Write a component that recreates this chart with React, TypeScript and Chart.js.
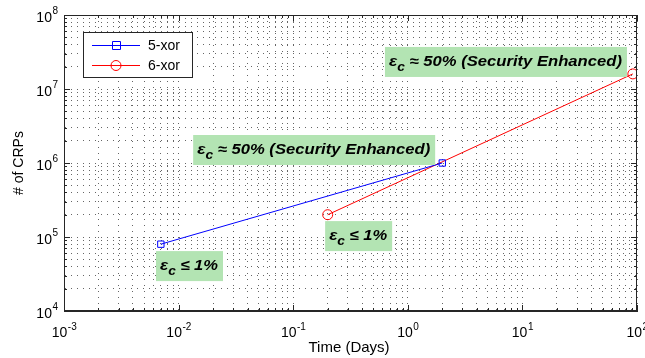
import React, { useEffect, useRef } from "react";
import { Chart, registerables } from "chart.js";

Chart.register(...registerables);

// ---- data ----
const seriesNames = ["5-xor", "6-xor"];
const xor5Days = [0.007, 2];
const xor5CRPs = [8e4, 1e6];
const xor6Days = [0.2, 92];
const xor6CRPs = [2e5, 1.6e7];

const xPowers = [-3, -2, -1, 0, 1, 2];
const yPowers = [4, 5, 6, 7, 8];

const xTitle = "Time (Days)";
const yTitle = "# of CRPs";

// annotation texts and anchors (top-left of box, data coords)
const annoTexts = [" \u2248 50% (Security Enhanced)", " \u2248 50% (Security Enhanced)", " \u2264 1%", " \u2264 1%"];
const annoX = [0.632, 0.0134, 0.00635, 0.19];
const annoY = [3.7e7, 2.39e6, 6.45e4, 1.64e5];
const annoTextWidth = [233, 233, 58, 58];

const FONT = "'Liberation Sans', Arial, Helvetica, sans-serif";
const GREEN = "#b3e4b3";
const BLUE = "#0000ff";
const RED = "#ff0000";

function logTicks(minP: number, maxP: number) {
  const t: { value: number }[] = [];
  for (let p = minP; p < maxP; p++) {
    for (let k = 1; k <= 9; k++) t.push({ value: k * Math.pow(10, p) });
  }
  t.push({ value: Math.pow(10, maxP) });
  return t;
}

const isMajor = (v: number) => Math.abs(Math.log10(v) - Math.round(Math.log10(v))) < 1e-9;

const decorPlugin = {
  id: "decor",
  afterDraw(chart: any) {
    const ctx = chart.ctx as CanvasRenderingContext2D;
    const { left, right, top, bottom } = chart.chartArea;
    const xs = chart.scales.x;
    const ys = chart.scales.y;
    ctx.save();
    // frame
    ctx.strokeStyle = "#262626";
    ctx.lineWidth = 1;
    ctx.strokeRect(left + 0.5, top + 0.5, right - left - 1, bottom - top - 1);
    // inside tick marks
    ctx.beginPath();
    xs.ticks.forEach((t: any) => {
      const px = Math.round(xs.getPixelForValue(t.value)) + 0.5;
      const L = isMajor(t.value) ? 6 : 3;
      ctx.moveTo(px, bottom);
      ctx.lineTo(px, bottom - L);
      ctx.moveTo(px, top);
      ctx.lineTo(px, top + L);
    });
    ys.ticks.forEach((t: any) => {
      const py = Math.round(ys.getPixelForValue(t.value)) + 0.5;
      const L = isMajor(t.value) ? 6 : 3;
      ctx.moveTo(left, py);
      ctx.lineTo(left + L, py);
      ctx.moveTo(right, py);
      ctx.lineTo(right - L, py);
    });
    ctx.stroke();

    // tick labels
    ctx.fillStyle = "#000";
    ctx.textBaseline = "alphabetic";
    xPowers.forEach((p) => {
      const px = xs.getPixelForValue(Math.pow(10, p));
      ctx.font = `14px ${FONT}`;
      const wb = ctx.measureText("10").width;
      ctx.font = `10px ${FONT}`;
      const es = String(p);
      const we = ctx.measureText(es).width;
      const x0 = px - (wb + we) / 2;
      ctx.font = `14px ${FONT}`;
      ctx.textAlign = "left";
      ctx.fillText("10", x0, 337);
      ctx.font = `10px ${FONT}`;
      ctx.fillText(es, x0 + wb + 0.5, 330);
    });
    yPowers.forEach((p) => {
      const py = ys.getPixelForValue(Math.pow(10, p));
      const es = String(p);
      ctx.font = `10px ${FONT}`;
      const we = ctx.measureText(es).width;
      const xr = left - 6;
      ctx.textAlign = "left";
      ctx.fillText(es, xr - we, py - 1);
      ctx.font = `14px ${FONT}`;
      ctx.textAlign = "right";
      ctx.fillText("10", xr - we - 0.5, py + 7);
    });

    // axis titles
    ctx.font = `15px ${FONT}`;
    ctx.textAlign = "center";
    ctx.textBaseline = "middle";
    ctx.fillText(xTitle, 349, 348);
    ctx.save();
    ctx.translate(19, 163);
    ctx.rotate(-Math.PI / 2);
    ctx.font = `14px ${FONT}`;
    ctx.fillText(yTitle, 0, 0);
    ctx.restore();

    // annotations
    annoTexts.forEach((txt, i) => {
      const bx = xs.getPixelForValue(annoX[i]);
      const by = ys.getPixelForValue(annoY[i]);
      ctx.font = `italic bold 15px ${FONT}`;
      const we = ctx.measureText("\u03b5").width;
      ctx.font = `italic bold 12px ${FONT}`;
      const wc = ctx.measureText("c").width;
      ctx.font = `italic bold 14.5px ${FONT}`;
      const wt = ctx.measureText(txt).width;
      const natural = we + wc + wt;
      const sx = annoTextWidth[i] / natural;
      const w = annoTextWidth[i] + 9;
      const h = 30;
      ctx.fillStyle = GREEN;
      ctx.fillRect(bx, by, w, h);
      ctx.fillStyle = "#000";
      ctx.textAlign = "left";
      ctx.textBaseline = "alphabetic";
      ctx.save();
      ctx.translate(bx + 4, 0);
      ctx.scale(sx, 1);
      ctx.font = `italic bold 15px ${FONT}`;
      ctx.fillText("\u03b5", 0, by + 19);
      ctx.font = `italic bold 12px ${FONT}`;
      ctx.fillText("c", we, by + 24);
      ctx.font = `italic bold 14.5px ${FONT}`;
      ctx.fillText(txt, we + wc, by + 19);
      ctx.restore();
    });

    // legend
    const lx = 83, ly = 32, lw = 109, lh = 45;
    ctx.fillStyle = "#fff";
    ctx.fillRect(lx, ly, lw, lh);
    ctx.strokeStyle = "#262626";
    ctx.strokeRect(lx + 0.5, ly + 0.5, lw, lh);
    const rows = [
      { name: seriesNames[0], color: BLUE, shape: "rect" },
      { name: seriesNames[1], color: RED, shape: "circle" },
    ];
    rows.forEach((r, i) => {
      const y = ly + 13.5 + i * 20;
      ctx.strokeStyle = r.color;
      ctx.lineWidth = 1;
      ctx.beginPath();
      ctx.moveTo(92, y);
      ctx.lineTo(140, y);
      ctx.stroke();
      ctx.beginPath();
      if (r.shape === "rect") ctx.rect(112.5, y - 4, 8, 8);
      else ctx.arc(116, y, 5, 0, Math.PI * 2);
      ctx.stroke();
      ctx.fillStyle = "#000";
      ctx.font = `14px ${FONT}`;
      ctx.textAlign = "left";
      ctx.textBaseline = "middle";
      ctx.fillText(r.name, 148, y + 1);
    });
    ctx.restore();
  },
};

export default function App() {
  const ref = useRef<HTMLCanvasElement>(null);
  useEffect(() => {
    if (!ref.current) return;
    const gridCfg = {
      color: "rgba(0,0,0,0.6)",
      lineWidth: 1,
      drawTicks: false,
    };
    const chart = new Chart(ref.current, {
      type: "line",
      data: {
        datasets: [
          {
            label: seriesNames[0],
            data: xor5Days.map((x, i) => ({ x, y: xor5CRPs[i] })),
            borderColor: BLUE,
            backgroundColor: "transparent",
            borderWidth: 1,
            pointStyle: "rect",
            pointRadius: 4.5,
            pointBorderColor: BLUE,
            pointBackgroundColor: "transparent",
            pointBorderWidth: 1,
          },
          {
            label: seriesNames[1],
            data: xor6Days.map((x, i) => ({ x, y: xor6CRPs[i] })),
            borderColor: RED,
            backgroundColor: "transparent",
            borderWidth: 1,
            pointStyle: "circle",
            pointRadius: 5,
            pointBorderColor: RED,
            pointBackgroundColor: "transparent",
            pointBorderWidth: 1,
          },
        ],
      },
      options: {
        animation: false,
        responsive: false,
        events: [],
        layout: { padding: { left: 64, top: 15, right: 8, bottom: 47 } },
        plugins: { legend: { display: false }, tooltip: { enabled: false } },
        scales: {
          x: {
            type: "logarithmic",
            min: 1e-3,
            max: 1e2,
            afterBuildTicks: (s: any) => {
              s.ticks = logTicks(-3, 2);
            },
            afterFit: (s: any) => {
              s.height = 0;
            },
            ticks: { display: false },
            grid: gridCfg,
            border: { display: true, color: "#262626", dash: [1, 5] },
          },
          y: {
            type: "logarithmic",
            min: 1e4,
            max: 1e8,
            afterBuildTicks: (s: any) => {
              s.ticks = logTicks(4, 8);
            },
            afterFit: (s: any) => {
              s.width = 0;
            },
            ticks: { display: false },
            grid: gridCfg,
            border: { display: true, color: "#262626", dash: [1, 5] },
          },
        },
      },
      plugins: [decorPlugin],
    } as any);
    return () => chart.destroy();
  }, []);
  return (
    <div style={{ position: "absolute", left: 0, top: 0, width: 645, height: 358, background: "#fff" }}>
      <canvas ref={ref} width={645} height={358} />
    </div>
  );
}
